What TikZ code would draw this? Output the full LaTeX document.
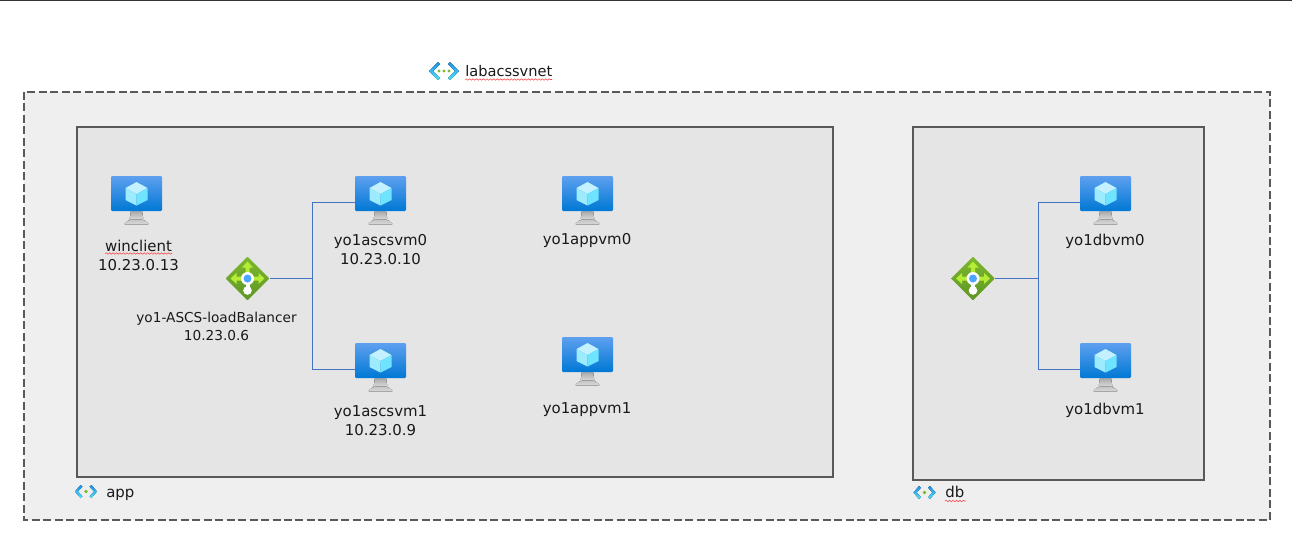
\documentclass[tikz,border=0pt]{standalone}
\usepackage{fontspec}
\setmainfont{DejaVu Sans}
\usetikzlibrary{calc,decorations.pathmorphing,positioning,shapes.geometric}
\definecolor{vnetfill}{HTML}{EFEFEF}
\definecolor{subnetfill}{HTML}{E5E5E5}
\definecolor{edgegray}{HTML}{595959}
\definecolor{linkblue}{HTML}{4472C4}
\definecolor{lbgreen}{HTML}{7DB82E}
\definecolor{lbdark}{HTML}{5E9624}
\definecolor{lbarrow}{HTML}{B4EC36}
\definecolor{screentop}{HTML}{5EA0EF}
\definecolor{screenlow}{HTML}{0078D4}
\definecolor{cubetop}{HTML}{C3F1FF}
\definecolor{cubeleft}{HTML}{9CEBFF}
\definecolor{cuberight}{HTML}{6FE4FF}
\definecolor{chevtop}{HTML}{1E90E8}
\definecolor{chevlow}{HTML}{50E6FF}
\tikzset{%
	vnetbox/.style   = {draw=edgegray, fill=vnetfill, line width=1.1pt, dash pattern=on 6pt off 2.6pt},
	subnetbox/.style = {draw=edgegray, fill=subnetfill, line width=1.5pt},
	link/.style      = {draw=linkblue, line width=0.75pt},
	label/.style     = {inner sep=0pt, align=center, text=black!90, font=\fontsize{11.2pt}{14pt}\selectfont},
	smalllabel/.style= {label, font=\fontsize{10.25pt}{14pt}\selectfont},
	squiggle/.style  = {draw=red!75, line width=0.4pt, decorate, decoration={snake, amplitude=0.55pt, segment length=2.6pt}},
	chevron/.style   = {top color=chevtop, bottom color=chevlow},
	vmscreen/.style  = {rectangle, rounded corners=0.8pt, inner sep=0pt, minimum width=38.25pt, minimum height=26.25pt, top color=screentop, bottom color=screenlow},
	lbbody/.style    = {diamond, rounded corners=0.6pt, inner sep=0pt, minimum width=33pt, minimum height=33pt, top color=lbgreen, bottom color=lbdark},
	vmicon/.pic = {
		\fill[top color=gray!70, bottom color=gray!25] (-5.5,17) -- (5.5,17) -- (7,27) -- (-7,27) -- cycle;
		\fill[top color=gray!45, bottom color=gray!30, rounded corners=1.5pt] (-7,26) -- (7,26) -- (13,31) -- (-13,31) -- cycle;
		\node[vmscreen] (-screen) at (0,0) {};
		\coordinate (-port) at (-25.5,8.5);
		\fill[cubetop] (0,-11.5) -- (11,-5.5) -- (0,0.5) -- (-11,-5.5) -- cycle;
		\fill[cubeleft] (-11,-5.5) -- (0,0.5) -- (0,12) -- (-11,6.5) -- cycle;
		\fill[cuberight] (11,-5.5) -- (0,0.5) -- (0,12) -- (11,6.5) -- cycle;
	},
	lbicon/.pic = {
		\node[lbbody] (-body) at (0,0) {};
		\foreach \ang in {0,90,180} {
			\fill[lbarrow,rotate=\ang] (5,-2) -- (11,-2) -- (11,-5.5) -- (17,0) -- (11,5.5) -- (11,2) -- (5,2) -- cycle;
		}
		\fill[white] (-2,4) rectangle (2,12);
		\fill[white] (0,0) circle (6.5);
		\fill[blue!50!cyan!70!white] (0,0) circle (4);
		\fill[white] (0,12) circle (4.3);
	},
	chevrons/.pic = {
		\fill[chevron] (-11,0) -- (-5.5,-6.5) -- (-3.5,-4.8) -- (-8,0) -- (-3.5,4.8) -- (-5.5,6.5) -- cycle;
		\fill[chevron] (11,0) -- (5.5,-6.5) -- (3.5,-4.8) -- (8,0) -- (3.5,4.8) -- (5.5,6.5) -- cycle;
		\fill[lbgreen] (0,0) circle (1.8);
	},
	bigchevrons/.pic = {
		\fill[chevron] (-15,0) -- (-6,-9) -- (-4,-7) -- (-11,0) -- (-4,7) -- (-6,9) -- cycle;
		\fill[chevron] (15,0) -- (6,-9) -- (4,-7) -- (11,0) -- (4,7) -- (6,9) -- cycle;
		\foreach \dotx in {-5,0,5} {\fill[lbgreen] (\dotx,0) circle (1.7);}
	},
}
\begin{document}
\begin{tikzpicture}[x=0.75pt,y=-0.75pt]
	\useasboundingbox (0,0) rectangle (1292,551);
	\coordinate (topleft) at (0,0.6);
	\coordinate (topright) at (1292,0.6);
	\draw[black!80,line width=0.75pt] (topleft) -- (topright);
	% boxes
	\draw[vnetbox] (24,92) rectangle (1270,520);
	\draw[subnetbox] (77,127) rectangle (833,477);
	\draw[subnetbox] (913,127) rectangle (1204,480);
	% vnet names
	\pic at (444,71) {bigchevrons};
	\node[label,anchor=west,font=\fontsize{10.95pt}{14pt}\selectfont] (vnetname) at (465,71) {labacssvnet};
	\draw[squiggle] (465,79.5) -- (552,79.5);
	\pic at (86,491.5) {chevrons};
	\node[label,anchor=base west] (appname) at (106,497) {app};
	\pic at (924.5,492.5) {chevrons};
	\node[label,anchor=base west] (dbname) at (945,497) {db};
	\draw[squiggle] (945,501) -- (966,501);
	% vms
	\pic (winclient) at (136.5,193.5) {vmicon};
	\pic (ascsA) at (380.5,193.5) {vmicon};
	\pic (ascsB) at (380.5,360.5) {vmicon};
	\pic (appA) at (587.5,193.5) {vmicon};
	\pic (appB) at (587.5,354.5) {vmicon};
	\pic (dbA) at (1105.5,193.5) {vmicon};
	\pic (dbB) at (1105.5,360.5) {vmicon};
	% load balancers
	\pic (lbascs) at (247.5,278.5) {lbicon};
	\pic (lbdb) at (973,278.5) {lbicon};
	\coordinate (busascs) at (312,278.5);
	\coordinate (busdb) at (1038,278.5);
	\draw[link] (lbascs-body.east) -- (busascs);
	\draw[link] (busascs) |- (ascsA-port);
	\draw[link] (busascs) |- (ascsB-port);
	\draw[link] (lbdb-body.east) -- (busdb);
	\draw[link] (busdb) |- (dbA-port);
	\draw[link] (busdb) |- (dbB-port);
	% labels
	\node[label] (winclientname) at (138.5,255.5) {winclient\\10.23.0.13};
	\draw[squiggle] (105,253.5) -- (172,253.5);
	\node[label] (ascsAname) at (380.5,249.5) {yo1ascsvm0\\10.23.0.10};
	\node[label] (ascsBname) at (380.5,420.5) {yo1ascsvm1\\10.23.0.9};
	\node[label] (appAname) at (587,241) {yo1appvm0};
	\node[label] (appBname) at (587,410) {yo1appvm1};
	\node[label] (dbAname) at (1105,241) {yo1dbvm0};
	\node[label] (dbBname) at (1105,410) {yo1dbvm1};
	\node[smalllabel] (lbascsname) at (216.5,326.5) {yo1-ASCS-loadBalancer\\10.23.0.6};
\end{tikzpicture}
\end{document}
